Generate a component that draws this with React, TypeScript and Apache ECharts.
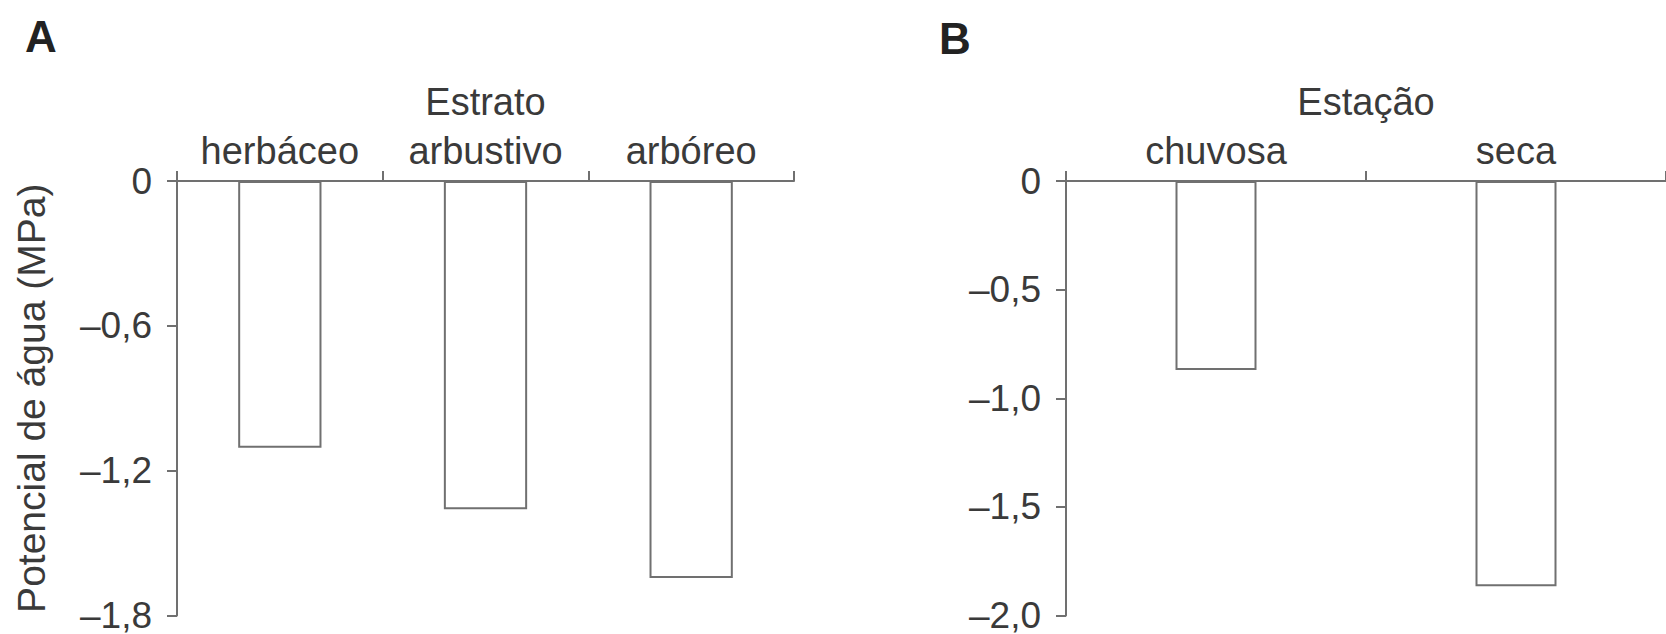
import React, { useEffect, useRef } from "react";
import * as echarts from "echarts";

// ---- data ----
const estratoCategories = ["herbáceo", "arbustivo", "arbóreo"];
const estratoValues = [-1.105, -1.36, -1.645];
const estratoAxis = { min: -1.8, max: 0, interval: 0.6 };

const estacaoCategories = ["chuvosa", "seca"];
const estacaoValues = [-0.87, -1.865];
const estacaoAxis = { min: -2.0, max: 0, interval: 0.5 };

const panelLetters = ["A", "B"];
const axisTitles = ["Estrato", "Estação"];
const yAxisTitle = "Potencial de água (MPa)";

const FONT = '"Liberation Sans", Arial, Helvetica, sans-serif';
const TEXT = "#3a3a3a";
const LINE = "#707070";

const fmt = (v: number) => {
  if (Math.abs(v) < 1e-9) return "0";
  return "\u2013" + Math.abs(v).toFixed(1).replace(".", ",");
};

export default function App() {
  const ref = useRef<HTMLDivElement>(null);

  useEffect(() => {
    document.body.style.margin = "0";
    const chart = echarts.init(ref.current!, null, { renderer: "svg" });

    const xAxisCommon = (idx: number, cats: string[], title: string) => ({
      type: "category" as const,
      gridIndex: idx,
      position: "top" as const,
      data: cats,
      name: title,
      nameLocation: "middle" as const,
      nameGap: 60,
      nameTextStyle: { fontSize: 38, color: TEXT, fontFamily: FONT },
      axisLine: { show: true, onZero: false, lineStyle: { color: LINE, width: 2 } },
      axisTick: { show: true, inside: false, length: 10, alignWithLabel: false, lineStyle: { color: LINE, width: 2 } },
      axisLabel: { fontSize: 38, color: TEXT, fontFamily: FONT, margin: 11, interval: 0 },
      splitLine: { show: false },
    });

    const yAxisCommon = (idx: number, ax: { min: number; max: number; interval: number }) => ({
      type: "value" as const,
      gridIndex: idx,
      min: ax.min,
      max: ax.max,
      interval: ax.interval,
      axisLine: { show: true, lineStyle: { color: LINE, width: 2 } },
      axisTick: { show: true, inside: false, length: 10, lineStyle: { color: LINE, width: 2 } },
      axisLabel: { fontSize: 37, color: TEXT, fontFamily: FONT, margin: 25, formatter: fmt },
      splitLine: { show: false },
    });

    chart.setOption({
      animation: false,
      backgroundColor: "#ffffff",
      textStyle: { fontFamily: FONT },
      grid: [
        { left: 177, top: 181, width: 617, height: 438 },
        { left: 1066, top: 181, width: 612, height: 438 },
      ],
      xAxis: [
        xAxisCommon(0, estratoCategories, axisTitles[0]),
        xAxisCommon(1, estacaoCategories, axisTitles[1]),
      ],
      yAxis: [
        {
          ...yAxisCommon(0, estratoAxis),
          name: yAxisTitle,
          nameLocation: "middle",
          nameGap: 126,
          nameTextStyle: { fontSize: 39, color: TEXT, fontFamily: FONT },
        },
        yAxisCommon(1, estacaoAxis),
      ],
      graphic: [
        {
          type: "text",
          x: 41,
          y: 36,
          style: {
            text: panelLetters[0],
            font: `bold 44px ${FONT}`,
            fill: "#222",
            align: "center",
            verticalAlign: "middle",
          },
        },
        {
          type: "text",
          x: 955,
          y: 38,
          style: {
            text: panelLetters[1],
            font: `bold 44px ${FONT}`,
            fill: "#222",
            align: "center",
            verticalAlign: "middle",
          },
        },
      ],
      series: [
        {
          type: "bar",
          xAxisIndex: 0,
          yAxisIndex: 0,
          data: estratoValues,
          barWidth: "40.5%",
          itemStyle: { color: "#ffffff", borderColor: LINE, borderWidth: 2 },
        },
        {
          type: "bar",
          xAxisIndex: 1,
          yAxisIndex: 1,
          data: estacaoValues,
          barWidth: "27%",
          itemStyle: { color: "#ffffff", borderColor: LINE, borderWidth: 2 },
        },
      ],
    });

    return () => chart.dispose();
  }, []);

  return <div ref={ref} style={{ width: 1666, height: 634 }} />;
}
